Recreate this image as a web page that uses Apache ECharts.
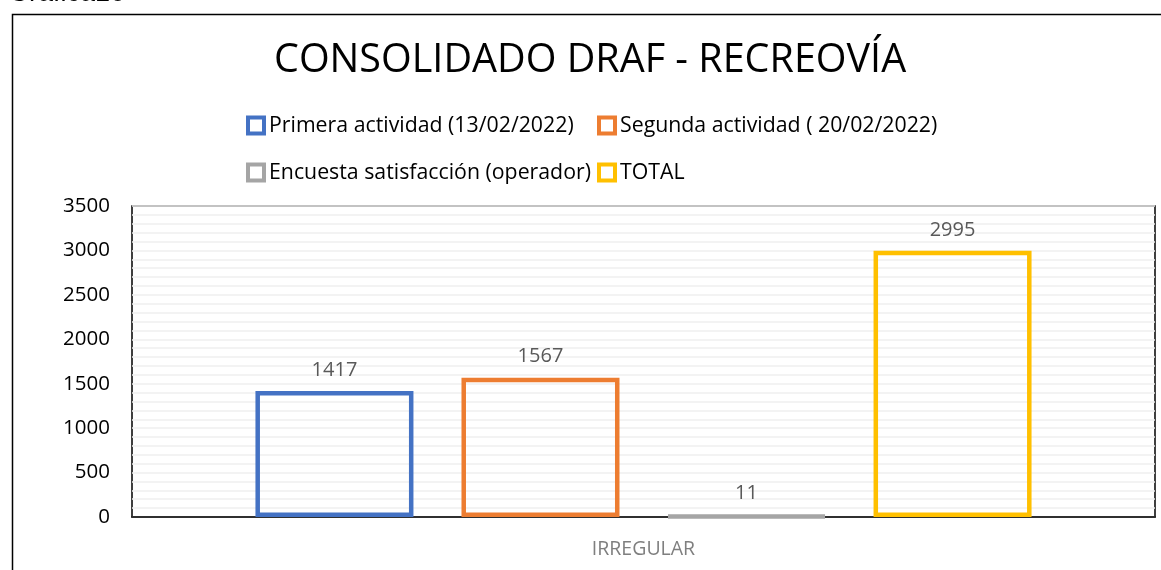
<!DOCTYPE html>
<html><head><meta charset="utf-8">
<script src="https://cdn.jsdelivr.net/npm/echarts@6/dist/echarts.min.js"></script>
<style>html,body{margin:0;padding:0;background:#fff}#c{width:1161px;height:570px}</style>
</head><body><div id="c"></div>
<script>
const categories = ['IRREGULAR'];
const seriesNames = ['Primera actividad (13/02/2022)', 'Segunda actividad ( 20/02/2022)', 'Encuesta satisfacción (operador)', 'TOTAL'];
const seriesValues = [1417, 1567, 11, 2995];
const colors = ['#4472C4', '#ED7D31', '#A5A5A5', '#FFC000'];
const yTicks = [0, 500, 1000, 1500, 2000, 2500, 3000, 3500];

const font = 'Open Sans';
const legendPos = [[246, 115], [597, 115], [246, 162], [597, 162]];
const chart = echarts.init(document.getElementById('c'));
chart.setOption({
  animation: false,
  title: {
    text: 'CONSOLIDADO DRAF - RECREOVÍA',
    left: 269, top: 36,
    textStyle: { fontFamily: font, fontSize: 39.5, fontWeight: 'normal', color: '#000' }
  },
  legend: seriesNames.map((n, i) => ({
    left: legendPos[i][0], top: legendPos[i][1], padding: 0,
    itemWidth: 16, itemHeight: 16, itemGap: 0,
    icon: 'rect',
    textStyle: { fontFamily: font, fontSize: 21.3, color: '#000', padding: [0, 0, 0, 0] },
    data: [{ name: n, itemStyle: { color: '#fff', borderColor: colors[i], borderWidth: 4 } }]
  })),
  grid: { left: 132, right: 6, top: 206, bottom: 53, show: true, borderColor: '#000', borderWidth: 1.5 },
  xAxis: {
    type: 'category', data: categories,
    axisLine: { lineStyle: { color: '#000', width: 1.5 } },
    axisTick: { show: false },
    axisLabel: { fontFamily: font, fontSize: 19.5, color: '#7f7f7f', margin: 22 }
  },
  yAxis: {
    type: 'value', min: yTicks[0], max: yTicks[yTicks.length - 1], interval: 500,
    axisLine: { show: false }, axisTick: { show: false },
    axisLabel: { fontFamily: font, fontSize: 20.5, color: '#000', margin: 22, formatter: v => String(v) },
    splitLine: { lineStyle: { color: '#efefef', width: 1.5 } },
    minorTick: { show: false, splitNumber: 5 },
    minorSplitLine: { show: true, lineStyle: { color: '#efefef', width: 1.5 } }
  },
  series: seriesNames.map((n, i) => ({
    name: n, type: 'bar', barWidth: 158, barGap: '30.4%',
    data: [seriesValues[i]],
    itemStyle: { color: 'transparent', borderColor: colors[i], borderWidth: 4.5 },
    label: { show: true, position: 'top', distance: 11, fontFamily: font, fontSize: 20, color: '#595959' }
  })),
  graphic: [
    { type: 'rect', left: 10, top: 12, shape: { width: 1200, height: 600 }, style: { fill: 'none', stroke: '#000', lineWidth: 1.5 }, silent: true, z: -1 },
    { type: 'text', x: 8, y: -20, style: { text: 'Grafica16', font: '27px "Liberation Sans"', fill: '#000', verticalAlign: 'top' } }
  ]
});
</script></body></html>
